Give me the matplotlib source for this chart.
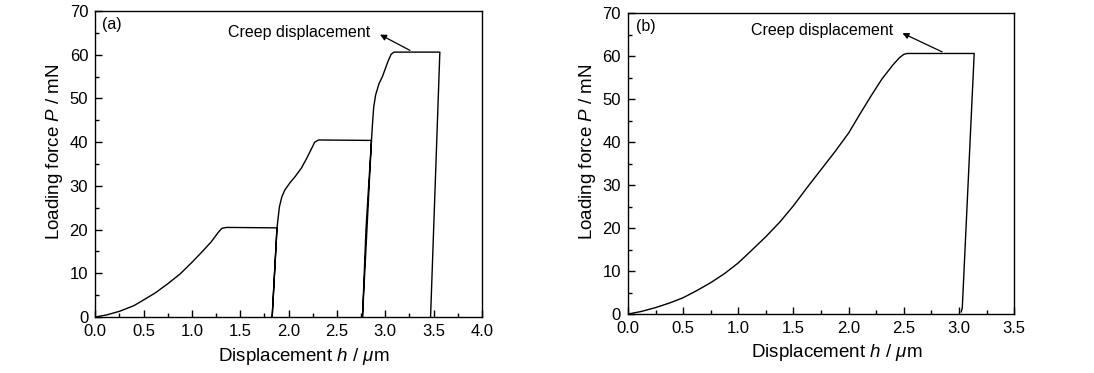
import matplotlib
matplotlib.use("Agg")
import matplotlib.pyplot as plt
from matplotlib.ticker import MultipleLocator

plt.rcParams['font.family'] = ['Liberation Sans', 'DejaVu Sans']
plt.rcParams['mathtext.fontset'] = 'custom'
plt.rcParams['mathtext.it'] = 'Liberation Sans:italic'
plt.rcParams['mathtext.rm'] = 'Liberation Sans'

# (a) stepwise loading: load / hold / unload / reload ...
h_a = [0.0, 0.12, 0.25, 0.4, 0.5, 0.62, 0.75, 0.88, 1.0, 1.1, 1.2, 1.27, 1.31, 1.36,
       1.88, 1.83,
       1.88, 1.905, 1.93, 1.96, 2.01, 2.07, 2.13, 2.18, 2.23, 2.27, 2.31,
       2.857, 2.764,
       2.80, 2.857, 2.87, 2.88, 2.90, 2.935, 2.97, 3.0, 3.03, 3.06, 3.09,
       3.564, 3.468]
P_a = [0.0, 0.5, 1.3, 2.6, 3.9, 5.5, 7.6, 9.9, 12.5, 14.8, 17.2, 19.3, 20.3, 20.5,
       20.4, 0.0,
       20.4, 25.2, 27.5, 29.0, 30.6, 32.2, 34.0, 36.0, 38.2, 40.0, 40.5,
       40.4, 0.0,
       20.0, 40.5, 45.0, 48.0, 50.8, 53.4, 55.0, 56.8, 58.6, 60.1, 60.6,
       60.6, 0.0]

# (b) single loading
h_b = [0.0, 0.12, 0.25, 0.38, 0.5, 0.62, 0.75, 0.88, 1.0, 1.12, 1.25, 1.38, 1.5,
       1.62, 1.75, 1.88, 2.0, 2.1, 2.2, 2.3, 2.4, 2.46, 2.5, 2.53,
       3.138, 3.03, 3.02]
P_b = [0.0, 0.6, 1.5, 2.6, 3.8, 5.4, 7.3, 9.5, 11.9, 14.8, 18.0, 21.5, 25.2,
       29.3, 33.6, 37.9, 42.1, 46.4, 50.6, 54.6, 57.9, 59.6, 60.4, 60.6,
       60.6, 1.4, 0.5]

fig = plt.figure(figsize=(10.94, 3.73), dpi=100)
ax1 = fig.add_axes([0.087, 0.150, 0.3536, 0.8205])
ax2 = fig.add_axes([0.574, 0.158, 0.353, 0.807])


def style(ax, xmax):
    ax.set_xlim(0, xmax)
    ax.set_ylim(0, 70)
    ax.xaxis.set_major_locator(MultipleLocator(0.5))
    ax.xaxis.set_minor_locator(MultipleLocator(0.25))
    ax.yaxis.set_major_locator(MultipleLocator(10))
    ax.yaxis.set_minor_locator(MultipleLocator(5))
    ax.xaxis.set_major_formatter(plt.FormatStrFormatter('%.1f'))
    ax.tick_params(which='both', direction='in', top=False, right=False,
                   labelsize=12, width=1, colors='black')
    ax.tick_params(axis='x', which='major', length=5, pad=5)
    ax.tick_params(axis='y', which='major', length=5, pad=5)
    ax.tick_params(which='minor', length=3)
    for s in ax.spines.values():
        s.set_linewidth(1)
    ax.set_xlabel(r'Displacement $h$ / $\mu$m', fontsize=13.5, va='center')
    ax.set_ylabel(r'Loading force $P$ / mN', fontsize=13.5, va='center')
    ax.xaxis.set_label_coords(0.54, -0.128)
    ax.yaxis.set_label_coords(-0.105, 0.54)


ax1.plot(h_a, P_a, color='black', lw=1.0)
style(ax1, 4.0)
ax1.text(0.07, 66.8, '(a)', fontsize=11.5, va='center')
ax1.annotate('Creep displacement', xy=(2.92, 64.9), xytext=(2.84, 65.0),
             fontsize=11.5, ha='right', va='center')
ax1.annotate('', xy=(2.92, 64.9), xytext=(3.28, 60.7),
             arrowprops=dict(arrowstyle='-|>', color='black', lw=0.9,
                             mutation_scale=9))

ax2.plot(h_b, P_b, color='black', lw=1.0)
style(ax2, 3.5)
ax2.text(0.07, 66.9, '(b)', fontsize=11.5, va='center')
ax2.annotate('Creep displacement', xy=(2.465, 65.6), xytext=(2.40, 66.0),
             fontsize=11.5, ha='right', va='center')
ax2.annotate('', xy=(2.465, 65.6), xytext=(2.87, 60.7),
             arrowprops=dict(arrowstyle='-|>', color='black', lw=0.9,
                             mutation_scale=9))

fig.savefig('out.png', dpi=100)
